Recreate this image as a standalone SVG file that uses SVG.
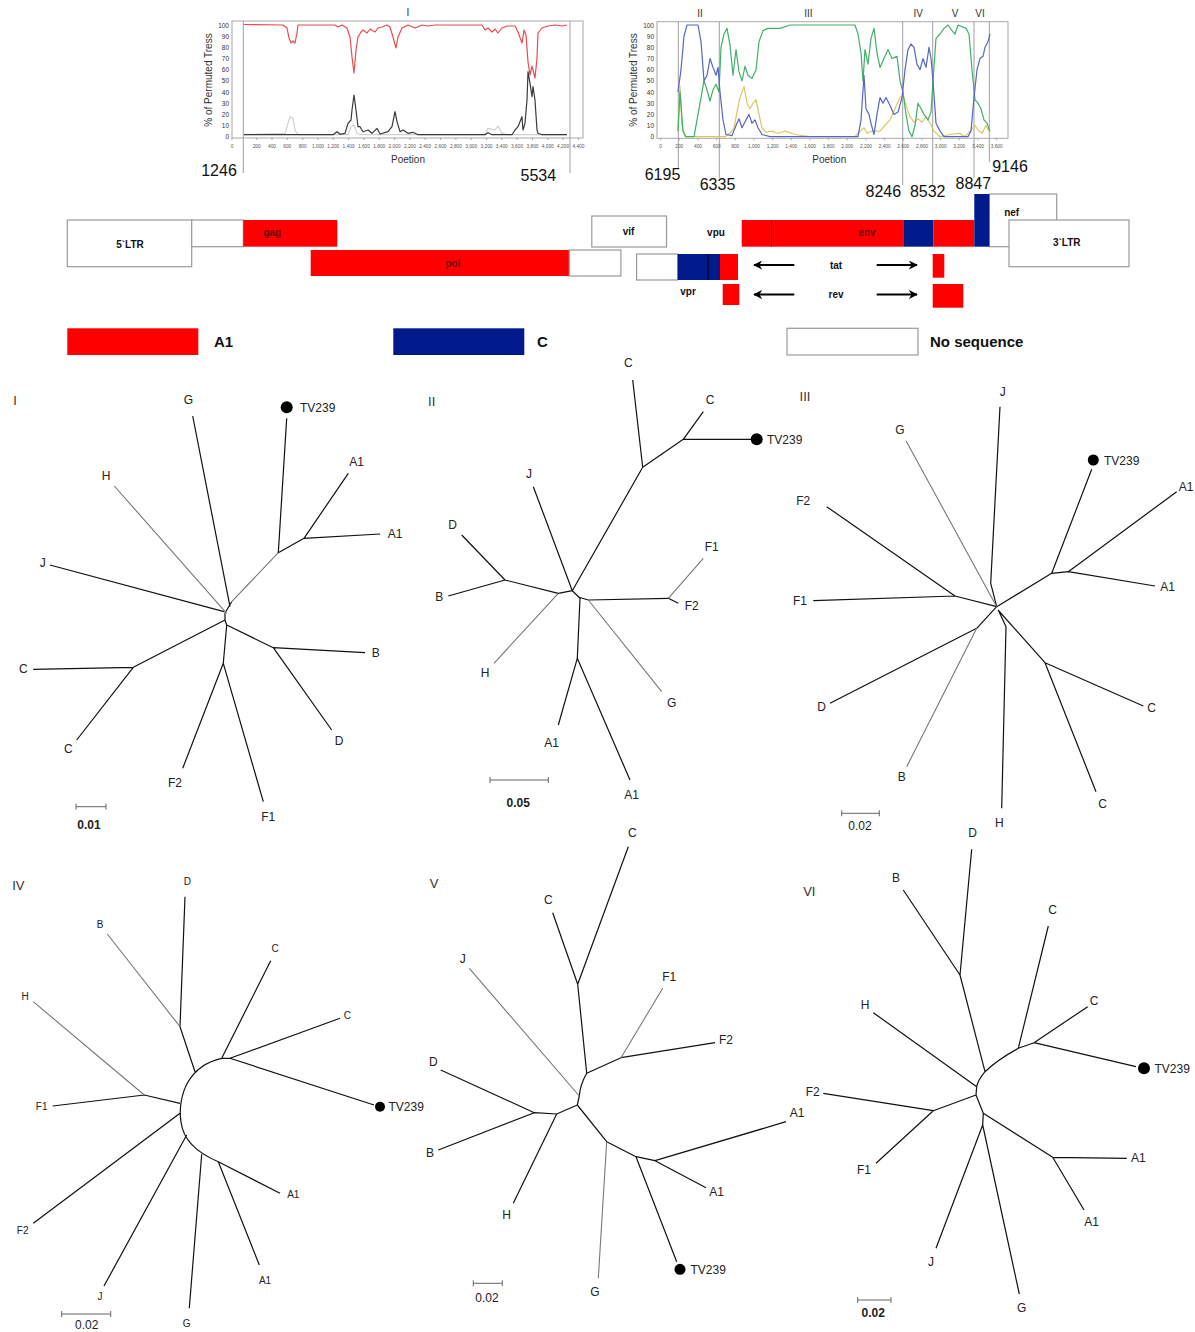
<svg xmlns="http://www.w3.org/2000/svg" width="1195" height="1332" viewBox="0 0 1195 1332">
<defs>
<marker id="ah" viewBox="0 0 10 10" refX="9" refY="5" markerWidth="4.5" markerHeight="4.5" orient="auto" markerUnits="strokeWidth">
<path d="M0,0 L10,5 L0,10 L3,5 z" fill="#000"/>
</marker>
</defs>
<style>
text{font-family:"Liberation Sans",Arial,sans-serif}
.frame{fill:none;stroke:#a8a8a8;stroke-width:1}
.mk{stroke:#a0a0a0;stroke-width:1;fill:none}
.tk{stroke:#888;stroke-width:0.7;fill:none}
.yt{font-size:6.5px;fill:#333;text-anchor:end;dominant-baseline:central}
.xt{font-size:4.8px;fill:#555;text-anchor:middle}
.ax{font-size:10px;fill:#333;text-anchor:middle}
.rn{font-size:10px;fill:#333;text-anchor:middle}
.num{font-size:16px;fill:#111;text-anchor:middle}
.cv{fill:none;stroke-width:1.2;stroke-linejoin:round}
.box{fill:#fff;stroke:#9a9a9a;stroke-width:1.2}
.red{fill:#ff0000}
.blue{fill:#001a8c}
.gl{font-size:10px;font-weight:bold;fill:#111;text-anchor:middle;dominant-baseline:central}
.gd{font-size:10px;font-weight:bold;fill:#6e0000;text-anchor:middle;dominant-baseline:central}
.leg{font-size:15px;font-weight:bold;fill:#111;dominant-baseline:central}
.arr{stroke:#000;stroke-width:2;fill:none;marker-end:url(#ah)}
.br{fill:none;stroke:#111;stroke-width:1.2;stroke-linejoin:round}
.brg{fill:none;stroke:#777;stroke-width:1.1}
.lf{font-size:12px;fill:#222;text-anchor:middle;dominant-baseline:central}
.lfs{font-size:10px;fill:#222;text-anchor:middle;dominant-baseline:central}
.tv{font-size:12px;fill:#222;dominant-baseline:central}
.tn{font-size:13px;fill:#333;text-anchor:middle;dominant-baseline:central}
.sb{fill:none;stroke:#666;stroke-width:1}
.sl{font-size:12px;fill:#222;text-anchor:middle;dominant-baseline:central}
</style>
<rect width="1195" height="1332" fill="#fff"/>

<!-- Bootscan plot I -->
<g id="plot-I">
<rect class="frame" x="232" y="21" width="351" height="117"/>
<path class="mk" d="M243.3,21 V173 M570,21 V173"/>
<path class="tk" d="M232,138 v2 M256.7,138 v2 M272,138 v2 M287.3,138 v2 M302.7,138 v2 M318,138 v2 M333.3,138 v2 M348.6,138 v2 M363.9,138 v2 M379.3,138 v2 M394.6,138 v2 M409.9,138 v2 M425.2,138 v2 M440.5,138 v2 M455.9,138 v2 M471.2,138 v2 M486.5,138 v2 M501.8,138 v2 M517.1,138 v2 M532.5,138 v2 M547.8,138 v2 M563.1,138 v2 M578.4,138 v2"/>
<text class="rn" x="408" y="16">I</text>
<g class="yt"><text x="229" y="25">100</text><text x="229" y="36.2">90</text><text x="229" y="47.3">80</text><text x="229" y="58.5">70</text><text x="229" y="69.7">60</text><text x="229" y="80.9">50</text><text x="229" y="92">40</text><text x="229" y="103.2">30</text><text x="229" y="114.4">20</text><text x="229" y="125.5">10</text><text x="229" y="136.7">0</text></g>
<g class="xt"><text x="232" y="147.5">0</text><text x="256.7" y="147.5">200</text><text x="272" y="147.5">400</text><text x="287.3" y="147.5">600</text><text x="302.7" y="147.5">800</text><text x="318" y="147.5">1,000</text><text x="333.3" y="147.5">1,200</text><text x="348.6" y="147.5">1,400</text><text x="363.9" y="147.5">1,600</text><text x="379.3" y="147.5">1,800</text><text x="394.6" y="147.5">2,000</text><text x="409.9" y="147.5">2,200</text><text x="425.2" y="147.5">2,400</text><text x="440.5" y="147.5">2,600</text><text x="455.9" y="147.5">2,800</text><text x="471.2" y="147.5">3,000</text><text x="486.5" y="147.5">3,200</text><text x="501.8" y="147.5">3,400</text><text x="517.1" y="147.5">3,600</text><text x="532.5" y="147.5">3,800</text><text x="547.8" y="147.5">4,000</text><text x="563.1" y="147.5">4,200</text><text x="578.4" y="147.5">4,400</text></g>
<text class="ax" x="408" y="163">Poetion</text>
<text class="ax" transform="translate(211.5,80) rotate(-90)">% of Permuted Tress</text>
<polyline class="cv" stroke="#d0d0d0" points="244,134.7 285,133.3 290,116.7 293,118.3 295,130 298,134.7 348,134.7 351,126.7 354,125 357,133.3 360,134.7 485,134.7 488,128.3 495,130 498,126 502,133.3 507,134.7 567,134.7"/>
<polyline class="cv" stroke="#3a3a3a" points="244,134.7 333,134.7 337,131.7 340,134.3 345,133.3 348,123.3 351,120 352,110 354,95 356,110 358,126.7 360,126.7 363,131.7 368,130 372,133.3 377,128.3 380,134 388,131.7 392,126.7 395,111.7 397,121.7 400,131.7 403,130 408,133.3 413,132.3 418,134.7 485,134.7 488,132.7 492,134.7 512,134.7 515,130 518,126.7 522,116.7 523,130 525,123.3 527,100 528,71.7 530,83.3 532,96.7 533,86.7 535,100 537,130 538,133.3 542,134.7 567,134.7"/>
<polyline class="cv" stroke="#ec4a4f" points="244,24.5 283,25 287,28 289,38 291,43 293,41 295,43 297,33 298,25 335,25 338,27 342,25 347,28 350,37 352,57 354,73 356,50 358,37 361,32 363,30 367,33 370,29 375,32 378,28 382,27 387,25 390,27 393,37 396,48 398,37 402,28 408,25 415,28 422,25 428,26 435,25 482,25 485,30 488,28 492,32 495,29 498,33 502,28 507,26 515,26 518,32 522,43 524,30 526,35 528,62 530,75 532,66 535,78 537,58 538,33 542,28 548,26 555,25 562,26 567,25"/>
</g>

<!-- Bootscan plot II-VI -->
<g id="plot-II-VI">
<rect class="frame" x="657" y="21.7" width="351" height="116.6"/>
<path class="mk" d="M678.3,21.7 V168 M719.3,21.7 V178 M902.7,21.7 V185 M932.7,21.7 V185 M974,21.7 V178 M989.3,21.7 V162"/>
<path class="tk" d="M660.7,138.3 v2 M679.3,138.3 v2 M698,138.3 v2 M716.7,138.3 v2 M735.3,138.3 v2 M754,138.3 v2 M772.7,138.3 v2 M791.3,138.3 v2 M810,138.3 v2 M828.7,138.3 v2 M847.3,138.3 v2 M866,138.3 v2 M884.7,138.3 v2 M903.3,138.3 v2 M922,138.3 v2 M940.7,138.3 v2 M959.3,138.3 v2 M978,138.3 v2 M996.7,138.3 v2"/>
<g class="rn"><text x="700" y="16.5">II</text><text x="808.3" y="16.5">III</text><text x="918.3" y="16.5">IV</text><text x="955" y="16.5">V</text><text x="980" y="16.5">VI</text></g>
<g class="yt"><text x="654" y="25">100</text><text x="654" y="36.2">90</text><text x="654" y="47.3">80</text><text x="654" y="58.5">70</text><text x="654" y="69.7">60</text><text x="654" y="80.9">50</text><text x="654" y="92">40</text><text x="654" y="103.2">30</text><text x="654" y="114.4">20</text><text x="654" y="125.5">10</text><text x="654" y="136.7">0</text></g>
<g class="xt"><text x="660.7" y="147.5">0</text><text x="679.3" y="147.5">200</text><text x="698" y="147.5">400</text><text x="716.7" y="147.5">600</text><text x="735.3" y="147.5">800</text><text x="754" y="147.5">1,000</text><text x="772.7" y="147.5">1,200</text><text x="791.3" y="147.5">1,400</text><text x="810" y="147.5">1,600</text><text x="828.7" y="147.5">1,800</text><text x="847.3" y="147.5">2,000</text><text x="866" y="147.5">2,200</text><text x="884.7" y="147.5">2,400</text><text x="903.3" y="147.5">2,600</text><text x="922" y="147.5">2,800</text><text x="940.7" y="147.5">3,000</text><text x="959.3" y="147.5">3,200</text><text x="978" y="147.5">3,400</text><text x="996.7" y="147.5">3,600</text></g>
<text class="ax" x="829.3" y="163">Poetion</text>
<text class="ax" transform="translate(636.5,80) rotate(-90)">% of Permuted Tress</text>
<polyline class="cv" stroke="#d8c868" points="678,131.1 680,86.4 682,125.5 685,136.7 725,136.7 730,133.3 734,127.8 737,112.1 740,97.6 744,86.4 747,103.2 750,108.8 753,103.2 756,99.8 759,114.4 762,127.8 766,132.2 772,131.1 778,133.3 785,131.1 795,134.5 810,136.7 855,136.7 860,131.1 864,127.8 867,133.3 872,131.1 880,131.1 885,125.5 890,119.9 895,108.8 900,97.6 903,95.4 906,105.4 910,116.6 914,122.2 918,118.8 922,122.2 926,116.6 930,123.3 934,131.1 940,136.7 950,134.5 960,133.3 965,136.7 970,131.1 975,125.5 978,130 982,133.3 986,125.5 990,133.3"/>
<polyline class="cv" stroke="#40b068" points="678,131.1 680,92 683,131.1 686,136.7 694,136.7 698,114.4 701,97.6 704,80.9 707,89.8 710,101 713,89.8 716,84.2 719,92 721,47.3 724,34 727,28.4 730,45.1 733,75.3 736,49.6 739,71.9 742,80.9 745,66.3 748,75.3 752,78.6 756,69.7 759,41.8 763,30.6 768,28.4 780,28.4 790,25 855,25 858,34 861,52.9 863,80.9 865,49.6 868,64.1 871,38.4 874,28.4 877,52.9 880,67.4 884,58.5 888,49.6 892,58.5 897,56.3 900,80.9 903,92 906,114.4 909,131.1 912,136.7 915,125.5 918,103.2 921,108.8 924,114.4 928,119.9 931,112.1 933,80.9 936,38.4 940,34 944,28.4 948,25 952,30.6 955,34 958,25 966,28.4 969,34 972,69.7 975,99.8 978,103.2 981,108.8 984,119.9 987,123.3 990,131.1"/>
<polyline class="cv" stroke="#5866c4" points="678,92 681,69.7 684,36.2 687,25 698,25 701,41.8 704,80.9 707,75.3 710,58.5 713,67.4 716,75.3 718,67.4 720,92 723,119.9 726,134.5 732,135.6 736,125.5 739,118.8 742,127.8 746,119.9 749,114.4 752,123.3 755,119.9 758,127.8 762,134.5 770,136.7 858,136.7 861,119.9 864,75.3 866,108.8 869,114.4 871,123.3 874,134.5 877,114.4 880,97.6 883,103.2 886,97.6 890,105.4 894,114.4 898,112.1 902,97.6 905,69.7 908,49.6 911,44 914,47.3 917,64.1 920,69.7 923,58.5 926,67.4 929,47.3 931,58.5 933,80.9 936,123.3 940,131.1 944,136.7 968,136.7 971,131.1 974,97.6 977,69.7 980,58.5 983,56.3 985,47.3 988,41.8 990,33.9"/>
</g>

<!-- breakpoint numbers -->
<g id="breakpoints" class="num">
<text x="219" y="176">1246</text>
<text x="538.3" y="181">5534</text>
<text x="662.5" y="180">6195</text>
<text x="717.5" y="190">6335</text>
<text x="883.3" y="197">8246</text>
<text x="927.7" y="197">8532</text>
<text x="973.3" y="189">8847</text>
<text x="1010" y="172">9146</text>
</g>

<!-- genome map -->
<g id="n-5LTR"><rect class="box" x="67.3" y="220" width="124.4" height="46.7"/><text class="gl" x="130" y="244">5`LTR</text></g>
<g id="n-gag-ns"><rect class="box" x="191.7" y="220" width="51.6" height="26.7"/></g>
<g id="n-gag"><rect class="red" x="243.3" y="220" width="94" height="26.7"/><text class="gd" x="272.3" y="232">gag</text></g>
<g id="n-pol"><rect class="red" x="310.7" y="250" width="258.6" height="26"/><text class="gd" x="453" y="263">pol</text></g>
<g id="n-pol-ns"><rect class="box" x="569.3" y="250" width="51.6" height="26"/></g>
<g id="n-vif"><rect class="box" x="591.8" y="216" width="74.7" height="31"/><text class="gl" x="628.6" y="231.5">vif</text></g>
<g id="n-vpr"><rect class="box" x="636.6" y="254" width="41.1" height="26"/><rect class="blue" x="677.7" y="254" width="42.3" height="26"/><line x1="708.2" y1="254" x2="708.2" y2="280" stroke="#000" stroke-width="0.8"/><rect class="red" x="720" y="254" width="18" height="26"/><text class="gl" x="688" y="291">vpr</text></g>
<g id="n-vpu"><text class="gl" x="716" y="232">vpu</text></g>
<g id="n-env"><rect class="red" x="741.7" y="220" width="161.6" height="26.7"/><line x1="771.7" y1="220" x2="771.7" y2="246.7" stroke="#700" stroke-width="0.8"/><rect class="blue" x="903.3" y="220" width="30" height="26.7"/><rect class="red" x="933.3" y="220" width="41" height="26.7"/><text class="gd" x="867" y="232">env</text></g>
<g id="n-nef"><rect class="box" x="989.3" y="194" width="67.4" height="52.7"/><rect class="blue" x="974.3" y="194" width="15" height="52.7"/><text class="gl" x="1011.7" y="212.5">nef</text></g>
<g id="n-3LTR"><rect class="box" x="1009" y="220" width="120" height="46.7"/><text class="gl" x="1066.7" y="242.5">3`LTR</text></g>
<g id="n-tat"><rect class="red" x="932.7" y="254" width="11.6" height="23.7"/><text class="gl" x="836" y="265">tat</text></g>
<g id="n-rev"><rect class="red" x="722.7" y="284" width="16.6" height="21"/><rect class="red" x="932.7" y="284" width="30.6" height="23.7"/><text class="gl" x="836" y="294.5">rev</text></g>
<g id="connectors-genome">
<line class="arr" x1="794.3" y1="265" x2="754" y2="265"/>
<line class="arr" x1="876.7" y1="265" x2="917" y2="265"/>
<line class="arr" x1="794.3" y1="294.5" x2="754" y2="294.5"/>
<line class="arr" x1="876.7" y1="294.5" x2="917" y2="294.5"/>
</g>

<!-- legend -->
<g id="legend-A1"><rect class="red" x="67.3" y="328.3" width="131" height="26.7"/><text class="leg" x="214" y="341.5">A1</text></g>
<g id="legend-C"><rect class="blue" x="393.3" y="328.3" width="131" height="26.7"/><text class="leg" x="537" y="341.5">C</text></g>
<g id="legend-NS"><rect class="box" x="787" y="328.3" width="131" height="26.7"/><text class="leg" x="930" y="341.5">No sequence</text></g>

<!-- Tree I -->
<g id="tree-I">
<g class="connectors">
<path class="br" d="M192.7,416 L230,606.7 M286.7,418.3 L278.3,552.7 L304,538.3 L348.3,473.3 M304,538.3 L380,534 M50,565 L224,611.7 M231.7,601.7 L225,613 L225,620 L226.7,625 M225,620 L133.3,667.3 L33.3,669.3 M133.3,667.3 L76.7,740 M226.7,625 L273.3,647.7 L365,652.7 M273.3,647.7 L331.7,730 M226.7,625 L223.3,663.3 L182.7,768.3 M223.3,663.3 L263.3,801.7"/>
<path class="brg" d="M278.3,552.7 L231.7,601.7 M114.3,486 L226.7,613.3"/>
</g>
<text class="tn" x="15" y="400">I</text>
<g id="I-G"><text class="lf" x="188.3" y="400">G</text></g>
<g id="I-TV239"><circle cx="286.7" cy="407.3" r="6" fill="#000"/><text class="tv" x="300" y="407.5">TV239</text></g>
<g id="I-A1a"><text class="lf" x="356.7" y="461.7">A1</text></g>
<g id="I-A1b"><text class="lf" x="395" y="534">A1</text></g>
<g id="I-H"><text class="lf" x="106" y="476">H</text></g>
<g id="I-J"><text class="lf" x="42.7" y="562.7">J</text></g>
<g id="I-Ca"><text class="lf" x="23.3" y="669.3">C</text></g>
<g id="I-Cb"><text class="lf" x="68.3" y="749.3">C</text></g>
<g id="I-B"><text class="lf" x="375.7" y="652.7">B</text></g>
<g id="I-D"><text class="lf" x="339" y="740.7">D</text></g>
<g id="I-F2"><text class="lf" x="175" y="783.3">F2</text></g>
<g id="I-F1"><text class="lf" x="268.3" y="816.7">F1</text></g>
<path class="sb" d="M76,806.7 H106 M76,803.7 V809.7 M106,803.7 V809.7"/>
<text class="sl" x="89" y="825" font-weight="bold" font-size="13">0.01</text>
</g>

<!-- Tree II -->
<g id="tree-II">
<g class="connectors">
<path class="br" d="M632.7,380 L642.7,467.3 L683.3,439.3 L703.3,411.7 M683.3,439.3 L752,439.3 M642.7,467.3 L572.3,590.7 M533.3,486.7 L572.3,590.7 M461.7,535 L505,580 M448.3,596 L505,580 L558.3,593.3 L572.3,590.7 L580,598.3 M578,597 L588.3,600 L668.3,598.3 L678.3,603.3 M580,598.3 L577.3,658.3 L558.3,725 M577.3,658.3 L630,780"/>
<path class="brg" d="M494,663.3 L558.3,593.3 M668.3,598.3 L703.3,558.3 M588.3,600 L661.7,691.7"/>
</g>
<text class="tn" x="431.7" y="401.7">II</text>
<g id="II-Ca"><text class="lf" x="628.3" y="363.3">C</text></g>
<g id="II-Cb"><text class="lf" x="710" y="400">C</text></g>
<g id="II-TV239"><circle cx="756.7" cy="439.3" r="6" fill="#000"/><text class="tv" x="767" y="439.5">TV239</text></g>
<g id="II-J"><text class="lf" x="529" y="474">J</text></g>
<g id="II-D"><text class="lf" x="452.7" y="525">D</text></g>
<g id="II-B"><text class="lf" x="439.3" y="596.7">B</text></g>
<g id="II-H"><text class="lf" x="485" y="672.7">H</text></g>
<g id="II-F1"><text class="lf" x="711.7" y="547.3">F1</text></g>
<g id="II-F2"><text class="lf" x="691.7" y="606">F2</text></g>
<g id="II-G"><text class="lf" x="671.7" y="702.7">G</text></g>
<g id="II-A1a"><text class="lf" x="551.7" y="743.3">A1</text></g>
<g id="II-A1b"><text class="lf" x="631.7" y="795">A1</text></g>
<path class="sb" d="M490,780 H548.3 M490,777 V783 M548.3,777 V783"/>
<text class="sl" x="518.3" y="802.7" font-weight="bold" font-size="13">0.05</text>
</g>

<!-- Tree III -->
<g id="tree-III">
<g class="connectors">
<path class="br" d="M1000,406.7 L990.7,583.3 L996.7,606.7 M1091.7,469.3 L1051.7,573.3 L1068.3,571.7 L1176.7,491.7 M1068.3,571.7 L1155,586 M1051.7,573.3 L996.7,606.7 M826.7,506.7 L955,596 L996.7,606.7 M813.3,600.7 L955,596 M830,703.3 L976.7,628.3 L996.7,606.7 M1001.7,808.3 L1006,626.7 L998.3,610 M998,610 L1045,662.7 L1143.3,706 M1045,662.7 L1096,791.7"/>
<path class="brg" d="M906,440.7 L996.7,606.7 M906.7,766.7 L976.7,628.3"/>
</g>
<text class="tn" x="805" y="396.7">III</text>
<g id="III-J"><text class="lf" x="1002.7" y="391.7">J</text></g>
<g id="III-G"><text class="lf" x="900" y="430">G</text></g>
<g id="III-TV239"><circle cx="1093.3" cy="460" r="5.5" fill="#000"/><text class="tv" x="1104" y="460.5">TV239</text></g>
<g id="III-A1a"><text class="lf" x="1186" y="487.3">A1</text></g>
<g id="III-A1b"><text class="lf" x="1167.7" y="586.7">A1</text></g>
<g id="III-F2"><text class="lf" x="803.3" y="500.7">F2</text></g>
<g id="III-F1"><text class="lf" x="800" y="601">F1</text></g>
<g id="III-D"><text class="lf" x="821.7" y="707.3">D</text></g>
<g id="III-B"><text class="lf" x="901.7" y="777.3">B</text></g>
<g id="III-H"><text class="lf" x="999.3" y="823.3">H</text></g>
<g id="III-Ca"><text class="lf" x="1151.7" y="708.3">C</text></g>
<g id="III-Cb"><text class="lf" x="1102.7" y="804">C</text></g>
<path class="sb" d="M841.7,813.3 H879.3 M841.7,810.3 V816.3 M879.3,810.3 V816.3"/>
<text class="sl" x="860" y="826">0.02</text>
</g>

<!-- Tree IV -->
<g id="tree-IV">
<g class="connectors">
<path class="br" d="M185,896.7 L180,1026.7 L195,1071.7 M221.7,1058.3 C205,1062 195,1070 188,1082 C181,1094 179,1110 181,1122 C183,1138 195,1152 218.3,1161.7 M221.7,1058.3 L270.7,960.7 M221.7,1058.3 L230,1058.3 L340,1018.3 M230,1058.3 L374,1105 M52.7,1106 L144.3,1095 L180,1103.3 M33.3,1223.3 L180,1113.3 M104,1286 L186.7,1135 M189.3,1308.3 L201.7,1154.3 M218.3,1161.7 L280,1193.3 M218.3,1161.7 L259.3,1265"/>
<path class="brg" d="M107.3,934 L180,1026.7 M33.3,1001.7 L144.3,1095"/>
</g>
<text class="tn" x="18.3" y="885">IV</text>
<g id="IV-D"><text class="lfs" x="187.3" y="881.7">D</text></g>
<g id="IV-B"><text class="lfs" x="100" y="924.3">B</text></g>
<g id="IV-Ca"><text class="lfs" x="275" y="948.3">C</text></g>
<g id="IV-Cb"><text class="lfs" x="347.3" y="1015">C</text></g>
<g id="IV-TV239"><circle cx="380" cy="1106.7" r="5" fill="#000"/><text class="tv" x="388.5" y="1107" font-size="11">TV239</text></g>
<g id="IV-H"><text class="lfs" x="25" y="996">H</text></g>
<g id="IV-F1"><text class="lfs" x="41.7" y="1106.7">F1</text></g>
<g id="IV-F2"><text class="lfs" x="22.7" y="1230">F2</text></g>
<g id="IV-J"><text class="lfs" x="100" y="1296.7">J</text></g>
<g id="IV-G"><text class="lfs" x="186.7" y="1323.3">G</text></g>
<g id="IV-A1a"><text class="lfs" x="293.3" y="1194.3">A1</text></g>
<g id="IV-A1b"><text class="lfs" x="265" y="1280.7">A1</text></g>
<path class="sb" d="M61.7,1314 H110.7 M61.7,1311 V1317 M110.7,1311 V1317"/>
<text class="sl" x="86.7" y="1325" font-size="11">0.02</text>
</g>

<!-- Tree V -->
<g id="tree-V">
<g class="connectors">
<path class="br" d="M628.3,846.7 L577.7,984.3 M552.7,912.7 L577.7,984.3 L586.7,1073.3 L621,1057.7 L715,1042.7 M586.7,1073.3 Q580,1085 579.3,1096 L577.3,1105 M440.7,1070 L534.3,1112.7 M438.3,1150 L534.3,1112.7 L556.7,1114 L577.3,1105 M513.3,1203.3 L556.7,1114 M577.3,1105 L606.7,1141.7 L636,1156.7 L655,1160.7 L786,1121.7 M655,1160.7 L706,1187.7 M636,1156.7 L676.7,1261.7"/>
<path class="brg" d="M469.3,968.3 L579.3,1096 M621,1057.7 L662.7,988.3 M606.7,1141.7 L598.3,1278.3"/>
</g>
<text class="tn" x="434" y="883.3">V</text>
<g id="V-Ca"><text class="lf" x="632.3" y="833.3">C</text></g>
<g id="V-Cb"><text class="lf" x="548.3" y="900">C</text></g>
<g id="V-J"><text class="lf" x="462.7" y="959.3">J</text></g>
<g id="V-F1"><text class="lf" x="669.3" y="976.7">F1</text></g>
<g id="V-F2"><text class="lf" x="726" y="1040">F2</text></g>
<g id="V-D"><text class="lf" x="433.3" y="1062">D</text></g>
<g id="V-B"><text class="lf" x="430" y="1153.3">B</text></g>
<g id="V-H"><text class="lf" x="506.7" y="1215">H</text></g>
<g id="V-G"><text class="lf" x="595" y="1291.7">G</text></g>
<g id="V-A1a"><text class="lf" x="797" y="1113.3">A1</text></g>
<g id="V-A1b"><text class="lf" x="716.7" y="1191.7">A1</text></g>
<g id="V-TV239"><circle cx="680" cy="1269.3" r="5.5" fill="#000"/><text class="tv" x="690.5" y="1269.5">TV239</text></g>
<path class="sb" d="M473.3,1283.3 H502.3 M473.3,1280.3 V1286.3 M502.3,1280.3 V1286.3"/>
<text class="sl" x="487" y="1298">0.02</text>
</g>

<!-- Tree VI -->
<g id="tree-VI">
<g class="connectors">
<path class="br" d="M971.7,849.3 L960,975 M903.3,890 L960,975 L985,1071.7 M1048.3,926 L1018.3,1048.3 L1034,1042.7 L1087.7,1006.7 M1034,1042.7 L1136,1066.7 M1018.3,1048.3 Q997,1060 985,1071.7 Q978,1080 976.7,1086.7 L976,1095 M873.3,1012.7 L976.7,1086.7 M823.3,1093.3 L933.3,1110.7 L976,1095 M876,1163.3 L933.3,1110.7 M976,1095 L983.3,1113.3 L982.7,1125 M936,1248.3 L982.7,1125 L1019.3,1294 M983.3,1113.3 L1052.7,1157.3 L1126.7,1158.3 M1052.7,1157.3 L1084,1210"/>
</g>
<text class="tn" x="809.3" y="891.7">VI</text>
<g id="VI-D"><text class="lf" x="972.7" y="832.7">D</text></g>
<g id="VI-B"><text class="lf" x="896" y="878.3">B</text></g>
<g id="VI-Ca"><text class="lf" x="1052.7" y="910">C</text></g>
<g id="VI-Cb"><text class="lf" x="1094" y="1001">C</text></g>
<g id="VI-TV239"><circle cx="1144" cy="1068.3" r="6" fill="#000"/><text class="tv" x="1154.5" y="1068.5">TV239</text></g>
<g id="VI-H"><text class="lf" x="865" y="1005">H</text></g>
<g id="VI-F2"><text class="lf" x="812.7" y="1091.7">F2</text></g>
<g id="VI-F1"><text class="lf" x="864" y="1170">F1</text></g>
<g id="VI-J"><text class="lf" x="931" y="1261.7">J</text></g>
<g id="VI-G"><text class="lf" x="1021.7" y="1308.3">G</text></g>
<g id="VI-A1a"><text class="lf" x="1138.3" y="1158.3">A1</text></g>
<g id="VI-A1b"><text class="lf" x="1091.7" y="1221.7">A1</text></g>
<path class="sb" d="M857.7,1300 H891 M857.7,1297 V1303 M891,1297 V1303"/>
<text class="sl" x="873.3" y="1313" font-weight="bold" font-size="13">0.02</text>
</g>
</svg>
